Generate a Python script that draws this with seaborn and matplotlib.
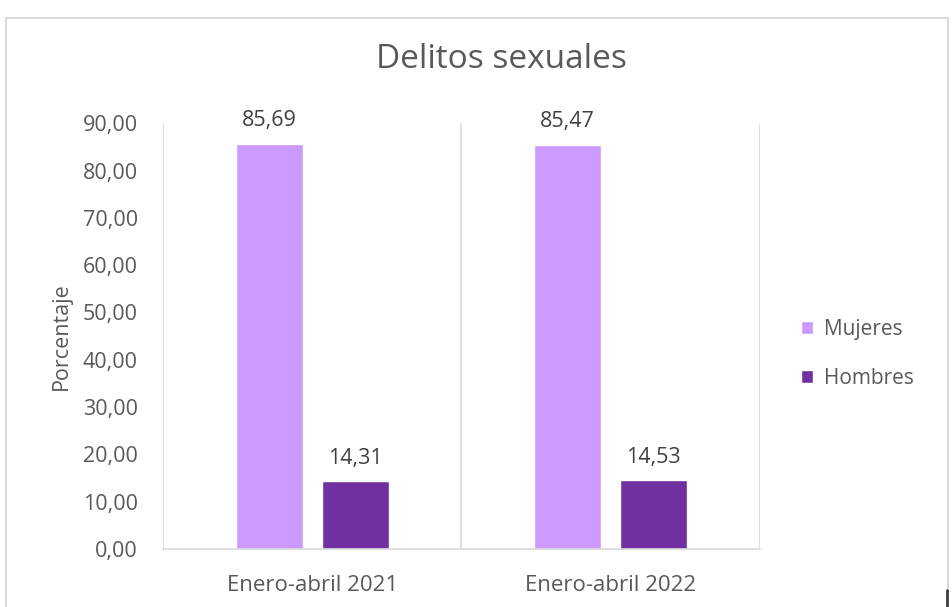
import pandas as pd
import numpy as np
import matplotlib.pyplot as plt
import seaborn as sns
from matplotlib.patches import Rectangle
from matplotlib.lines import Line2D

periodos = ['Enero-abril 2021', 'Enero-abril 2022']
mujeres = [85.69, 85.47]
hombres = [14.31, 14.53]
sexos = ['Mujeres', 'Hombres']
colores = ['#CC99FF', '#7030A0']
yticks = [0, 10, 20, 30, 40, 50, 60, 70, 80, 90]

df = pd.DataFrame({
    'periodo': periodos * 2,
    'valor': mujeres + hombres,
    'sexo': [sexos[0]] * len(periodos) + [sexos[1]] * len(periodos),
})

sns.set_style('white')
plt.rcParams['font.family'] = ['Open Sans', 'DejaVu Sans']
gris = '#595959'

fig = plt.figure(figsize=(9.53, 6.07), dpi=100)
ax = fig.add_axes([0.171, 0.0956, 0.6265, 0.7014])

sns.barplot(data=df, x='periodo', y='valor', hue='sexo', hue_order=sexos,
            palette=colores, width=0.576, gap=0.22, saturation=1, ax=ax)

for cont in ax.containers:
    etiquetas = [f'{b.get_height():.2f}'.replace('.', ',') for b in cont]
    ax.bar_label(cont, labels=etiquetas, padding=9, fontsize=15.5, color='#404040')

ax.set_xlim(-0.5, 1.5)
ax.set_ylim(0, 90)
ax.set_yticks(yticks)
ax.set_yticklabels([f'{v:.2f}'.replace('.', ',') for v in yticks])
ax.tick_params(axis='y', labelsize=15.5, colors=gris, length=0, pad=18)
ax.tick_params(axis='x', labelsize=16, colors=gris, length=0, pad=19)
ax.set_xlabel('')
ax.set_ylabel('Porcentaje', fontsize=15.5, color=gris, labelpad=8)

for x in [-0.5, 0.5, 1.5]:
    ax.axvline(x, color='#D9D9D9', lw=1.2, zorder=0)
for s in ['top', 'right', 'left']:
    ax.spines[s].set_visible(False)
ax.spines['bottom'].set_color('#D9D9D9')
ax.spines['bottom'].set_linewidth(1.2)

fig.text(501 / 953, 1 - 60 / 607, 'Delitos sexuales', fontsize=24, color=gris,
         ha='center', va='center')

sns.move_legend(ax, 'center left', bbox_to_anchor=(1.037, 0.458), frameon=False,
                title=None, fontsize=15, handlelength=0.6, handleheight=0.6,
                labelspacing=1.35, handletextpad=0.5)
for t in ax.get_legend().get_texts():
    t.set_color(gris)

fig.patches.append(Rectangle((6 / 953, -0.01), 942 / 953, 1 - 18 / 607 + 0.01,
                             transform=fig.transFigure, fill=False,
                             edgecolor='#D9D9D9', lw=1.5))
fig.lines.append(Line2D([947.5 / 953] * 2, [0, 17 / 607], transform=fig.transFigure,
                        color='#404040', lw=2))

plt.savefig('out.png', dpi=100)
